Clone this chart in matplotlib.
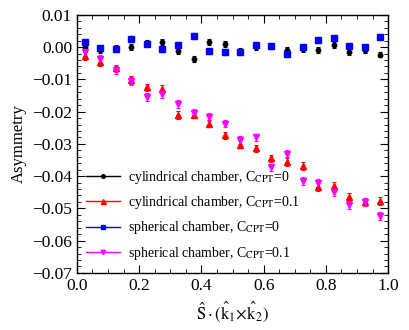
import matplotlib
matplotlib.use("Agg")
import matplotlib.pyplot as plt
from matplotlib.ticker import MultipleLocator, FuncFormatter
from matplotlib.lines import Line2D

plt.rcParams['font.family'] = ['Liberation Serif', 'DejaVu Serif']
plt.rcParams['mathtext.fontset'] = 'stix'

# bin centres
x = [0.025, 0.075, 0.125, 0.175, 0.225, 0.275, 0.325, 0.375, 0.425, 0.475,
     0.525, 0.575, 0.625, 0.675, 0.725, 0.775, 0.825, 0.875, 0.925, 0.975]

cyl_c0 = [0.0001, -0.0009, -0.0004, 0.0001, 0.0013, 0.0015, -0.0011, -0.0037, 0.0015, 0.0010,
          -0.0011, 0.0001, 0.0002, -0.0008, -0.0007, -0.0008, 0.0007, -0.0015, -0.0010, -0.0023]
cyl_c0_err = [0.0009] * 20

cyl_c01 = [-0.0027, -0.0047, -0.0066, -0.0102, -0.0125, -0.0130, -0.0211, -0.0209, -0.0237, -0.0274,
           -0.0302, -0.0314, -0.0345, -0.0356, -0.0369, -0.0433, -0.0431, -0.0464, -0.0480, -0.0477]
cyl_c01_err = [0.0012] * 20

sph_c0 = [0.0016, -0.0002, -0.0006, 0.0025, 0.0011, -0.0005, 0.0008, 0.0035, -0.0012, -0.0014,
          -0.0015, 0.0008, 0.0002, -0.0020, -0.0001, 0.0021, 0.0029, 0.0002, -0.0001, 0.0030]
sph_c0_err = [0.0009] * 20

sph_c01 = [-0.0015, -0.0038, -0.0071, -0.0104, -0.0154, -0.0146, -0.0177, -0.0204, -0.0216, -0.0237,
           -0.0288, -0.0280, -0.0373, -0.0330, -0.0415, -0.0421, -0.0449, -0.0490, -0.0480, -0.0524]
sph_c01_err = [0.0012] * 20

series = [
    (cyl_c0, cyl_c0_err, 'black', 'o', 3.2, r'cylindrical chamber, C$_{\rm CPT}$=0'),
    (cyl_c01, cyl_c01_err, 'red', '^', 4.5, r'cylindrical chamber, C$_{\rm CPT}$=0.1'),
    (sph_c0, sph_c0_err, 'blue', 's', 4, r'spherical chamber, C$_{\rm CPT}$=0'),
    (sph_c01, sph_c01_err, 'magenta', 'v', 4, r'spherical chamber, C$_{\rm CPT}$=0.1'),
]

fig = plt.figure(figsize=(4.09, 3.30), dpi=100)
ax = fig.add_axes([0.188, 0.173, 0.761, 0.782])

for vals, errs, col, mk, ms, lab in series:
    ax.errorbar(x, vals, yerr=errs, fmt=mk, color=col, ms=ms, elinewidth=0.8,
                capsize=1.2, capthick=0.8, label=lab)

ax.set_xlim(0, 1.0)
ax.set_ylim(-0.07, 0.01)
ax.xaxis.set_major_locator(MultipleLocator(0.2))
ax.xaxis.set_minor_locator(MultipleLocator(0.05))
ax.yaxis.set_major_locator(MultipleLocator(0.01))
ax.yaxis.set_minor_locator(MultipleLocator(0.002))
ax.xaxis.set_major_formatter(FuncFormatter(lambda v, p: f"{v:.1f}"))
ax.yaxis.set_major_formatter(FuncFormatter(lambda v, p: f"{v:.2f}".replace('-', '\u2212') if abs(v) > 1e-9 else "0.00"))
ax.tick_params(which='both', direction='in', top=True, right=True, labelsize=12.5)
ax.tick_params(which='major', length=6)
ax.tick_params(which='minor', length=3)
for s in ax.spines.values():
    s.set_linewidth(1.0)

ax.set_xlabel(r'$\hat{\rm S}\cdot(\hat{\rm k}_1\!\times\!\hat{\rm k}_2)$', fontsize=12)
ax.set_ylabel('Asymmetry', fontsize=12)

labels = [s[5] for s in series]
lh = [Line2D([0], [0], color=c, marker=m, ms=ms * 0.8, lw=1) for _, _, c, m, ms, _ in series]
ax.legend(lh, labels, loc='lower left', bbox_to_anchor=(-0.01, -0.005), frameon=False,
          fontsize=10, handlelength=2.4, handletextpad=0.6, labelspacing=0.6)

fig.savefig('out.png', dpi=100)
